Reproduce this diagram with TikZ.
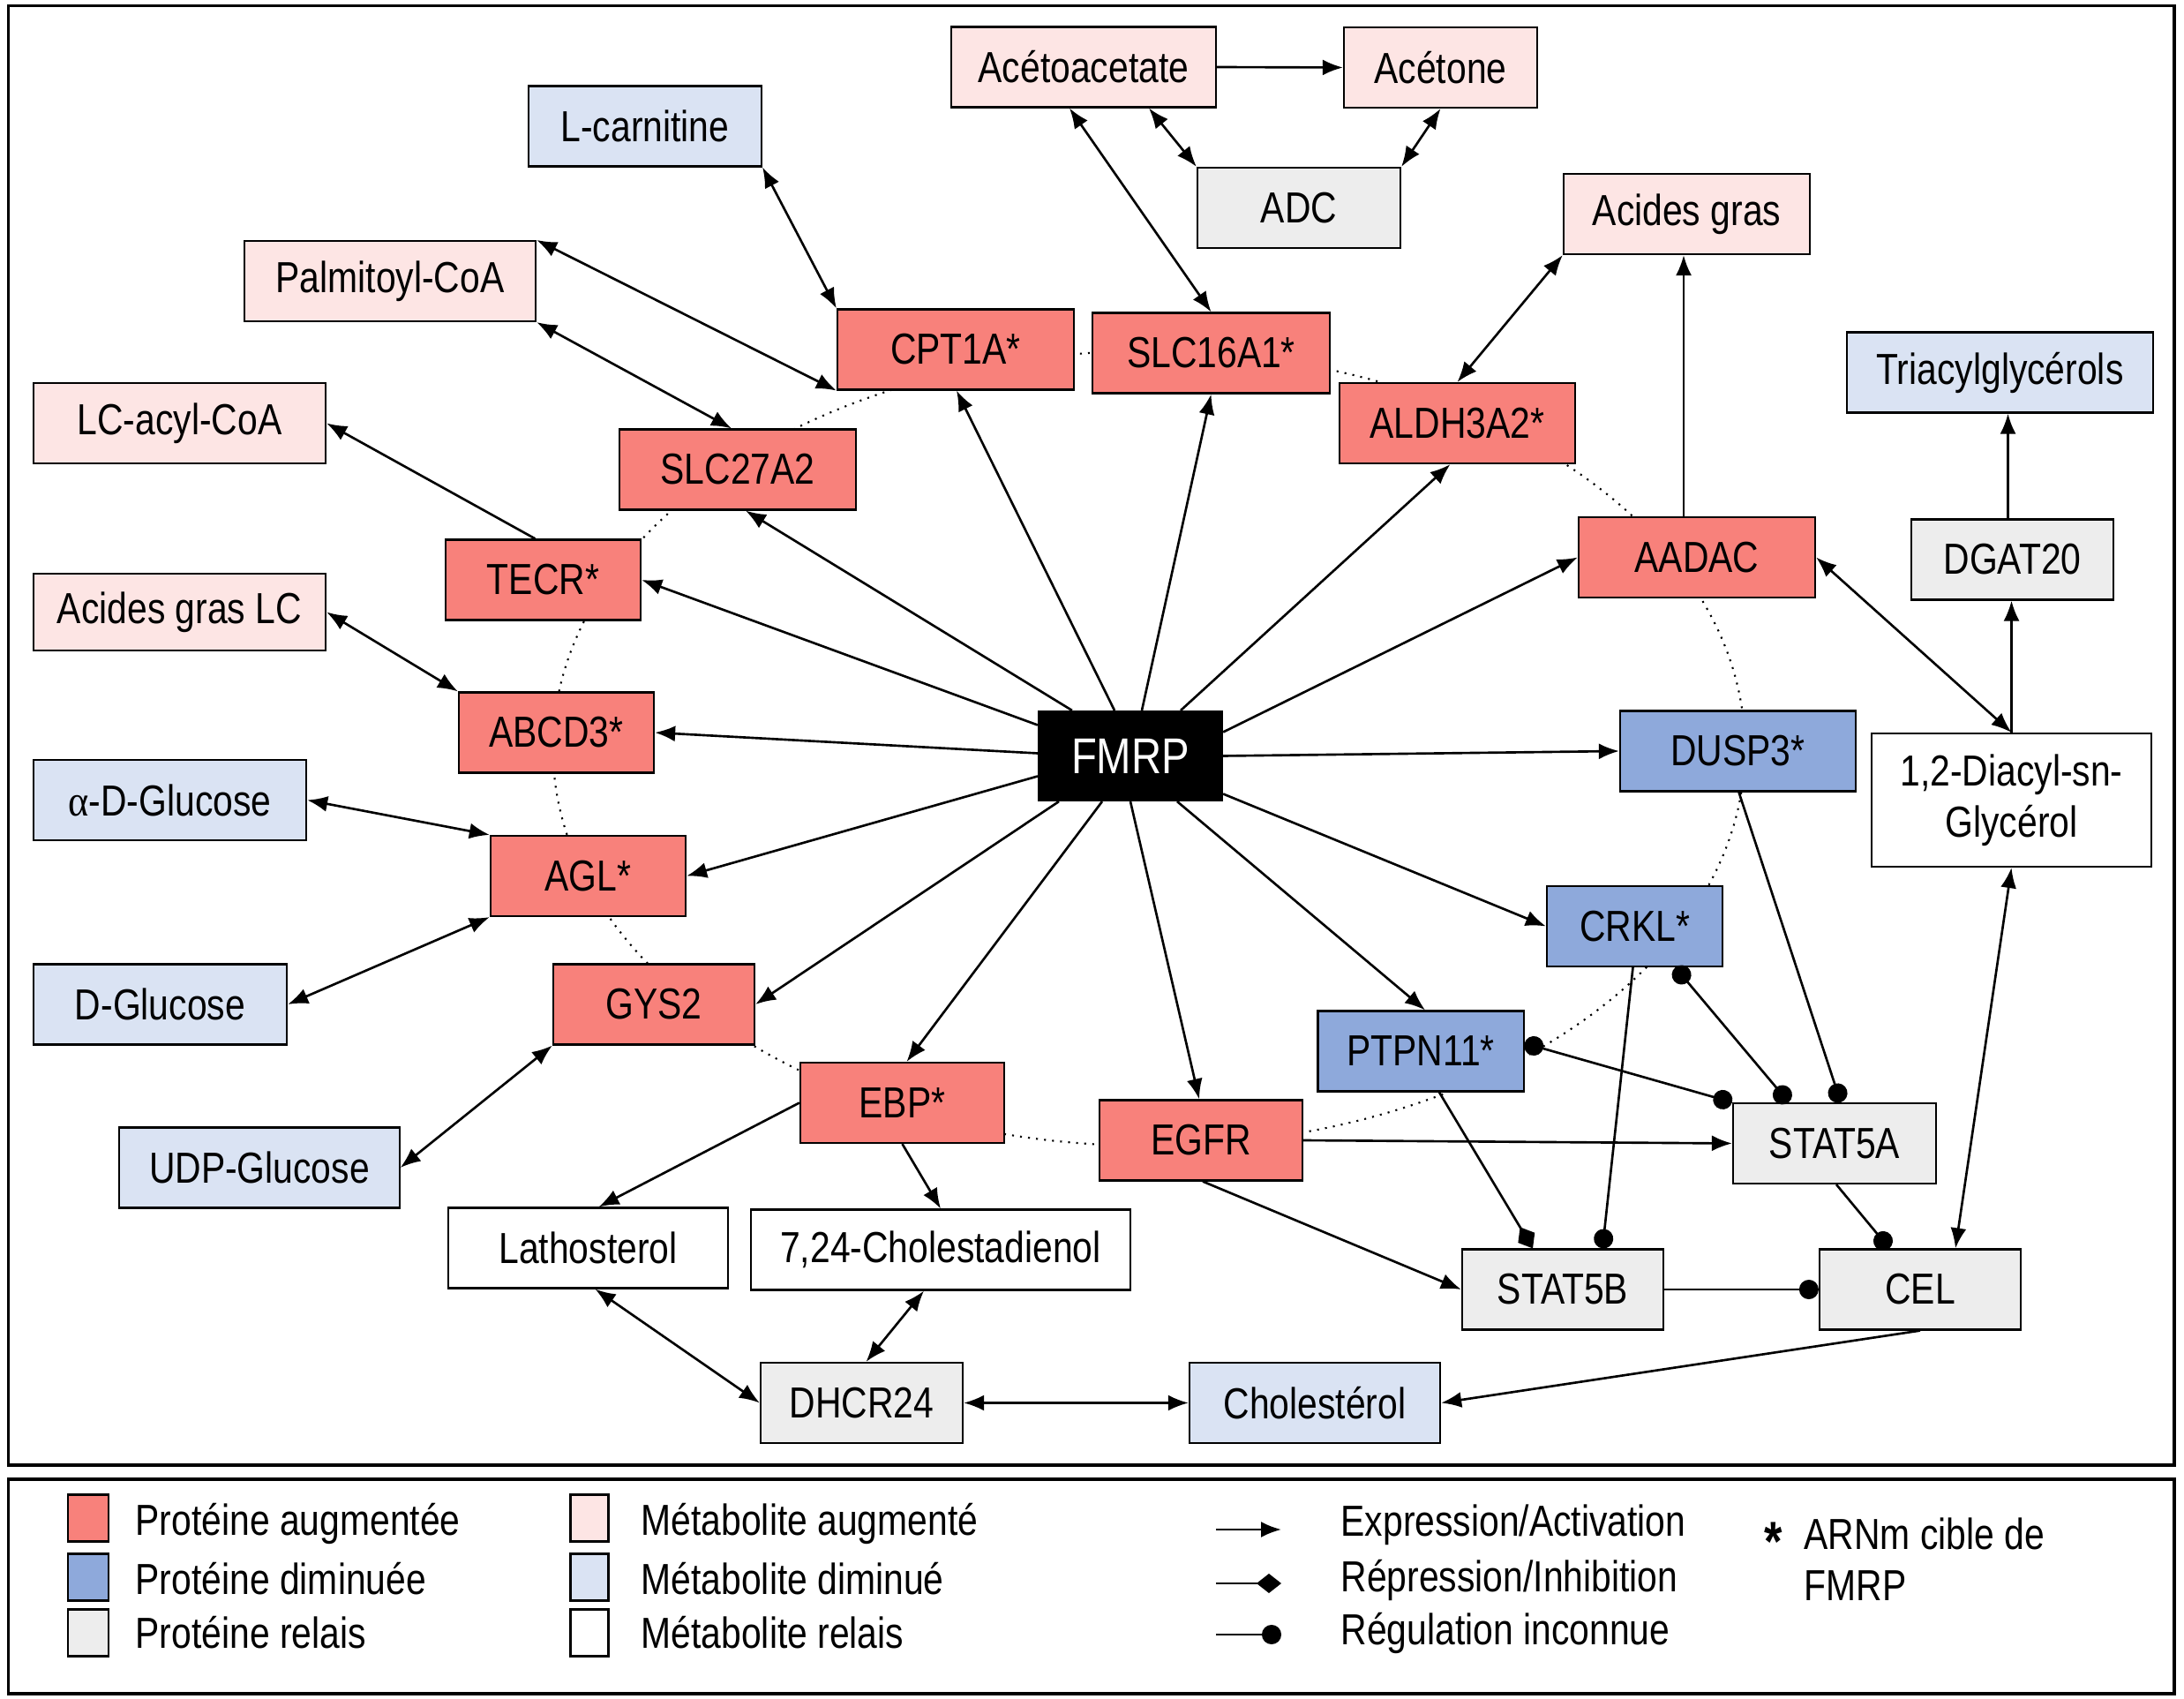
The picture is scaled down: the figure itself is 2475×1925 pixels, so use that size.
\documentclass[tikz,border=0pt]{standalone}
\usepackage{fontspec}
\setmainfont{Liberation Sans}[FakeStretch=0.83]
\newfontfamily\alphafont{Liberation Serif}[FakeStretch=0.9]
\usetikzlibrary{arrows.meta,calc}
\definecolor{pup}{HTML}{F8817B}
\definecolor{pdown}{HTML}{8EA9DB}
\definecolor{prelay}{HTML}{EDEDED}
\definecolor{mup}{HTML}{FDE5E4}
\definecolor{mdown}{HTML}{DAE3F3}
\begin{document}
\begin{tikzpicture}[x=0.01cm,y=-0.01cm,
  font=\fontsize{14}{16.5}\selectfont,
  box/.style={draw, line width=0.6pt, inner sep=0pt, align=center, minimum height=0.91cm},
  pu/.style={box, fill=pup},
  pd/.style={box, fill=pdown},
  pr/.style={box, fill=prelay},
  mu/.style={box, fill=mup},
  md/.style={box, fill=mdown},
  mr/.style={box, fill=white},
  fm/.style={box, fill=black, text=white, font=\fontsize{16.2}{18}\selectfont, minimum width=2.08cm, minimum height=1.01cm},
  conn/.style={line width=0.75pt},
  act/.style={conn, -{Latex[length=2.3mm,width=1.8mm]}},
  bi/.style={conn, {Latex[length=2.3mm,width=1.8mm]}-{Latex[length=2.3mm,width=1.8mm]}},
  unk/.style={conn, -{Circle[length=2.2mm]}},
  unkbi/.style={conn, {Circle[length=2.2mm]}-{Circle[length=2.2mm]}},
  inh/.style={conn, -{Diamond[length=2.8mm,width=2.2mm]}},
  swatch/.style={draw, line width=0.6pt, inner sep=0pt, minimum width=0.46cm, minimum height=0.53cm},
  legtext/.style={anchor=west, inner sep=0pt}
]
\useasboundingbox (0,0) rectangle (2475,1925);
\fill[white] (0,0) rectangle (2475,1925);
% frames
\draw[line width=0.9pt] (9.6,6.5) rectangle (2464,1660);
\draw[line width=0.9pt] (9.6,1676) rectangle (2464,1919);
% dotted ring
\draw[dotted, line width=0.6pt] (1302,848) ellipse [x radius=6.75cm, y radius=4.5cm];

% nodes
\node[mu, minimum width=3.00cm] (Acetoacetate) at (1228,76) {Acétoacetate};
\node[mu, minimum width=2.19cm] (Acetone) at (1632.5,76.5) {Acétone};
\node[pr, minimum width=2.30cm] (ADC) at (1472,235.5) {ADC};
\node[md, minimum width=2.64cm] (Lcarnitine) at (731,143) {L-carnitine};
\node[mu, minimum width=2.79cm] (AcidesGras) at (1911.5,242.5) {Acides gras};
\node[mu, minimum width=3.30cm] (Palmitoyl) at (442,318.5) {Palmitoyl-CoA};
\node[pu, minimum width=2.68cm] (CPT1A) at (1083,396) {CPT1A*};
\node[pu, minimum width=2.69cm] (SLC16A1) at (1372.5,400) {SLC16A1*};
\node[pu, minimum width=2.67cm] (ALDH3A2) at (1651.5,479.5) {ALDH3A2*};
\node[md, minimum width=3.47cm] (Triacyl) at (2266.5,422) {Triacylglycérols};
\node[mu, minimum width=3.31cm] (LCacyl) at (203.5,479.5) {LC-acyl-CoA};
\node[pu, minimum width=2.68cm] (SLC27A2) at (836,532) {SLC27A2};
\node[pu, minimum width=2.68cm] (AADAC) at (1923,631.5) {AADAC};
\node[pr, minimum width=2.29cm] (DGAT) at (2280.5,634) {DGAT20};
\node[pu, minimum width=2.21cm] (TECR) at (615.5,657) {TECR*};
\node[mu, minimum width=3.31cm, minimum height=0.87cm] (AcidesGrasLC) at (203.5,693.5) {Acides gras LC};
\node[pu, minimum width=2.21cm] (ABCD3) at (630.5,830) {ABCD3*};
\node[fm] (FMRP) at (1281,856.5) {FMRP};
\node[pd, minimum width=2.67cm] (DUSP3) at (1969.5,851) {DUSP3*};
\node[mr, minimum width=3.17cm, minimum height=1.51cm] (Diacyl) at (2279.5,906.5) {1,2-Diacyl-sn-\\Glycérol};
\node[md, minimum width=3.09cm] (aDGlucose) at (192.5,906.5) {{\alphafont α}-D-Glucose};
\node[pu, minimum width=2.21cm] (AGL) at (666.5,992.5) {AGL*};
\node[pd, minimum width=1.99cm] (CRKL) at (1852.5,1049.5) {CRKL*};
\node[md, minimum width=2.87cm] (DGlucose) at (181.5,1138) {D-Glucose};
\node[pu, minimum width=2.28cm] (GYS2) at (741,1138) {GYS2};
\node[pd, minimum width=2.33cm] (PTPN11) at (1610,1191) {PTPN11*};
\node[pu, minimum width=2.31cm] (EBP) at (1022.5,1249.5) {EBP*};
\node[pu, minimum width=2.30cm] (EGFR) at (1361,1292) {EGFR};
\node[pr, minimum width=2.30cm] (STAT5A) at (2079,1295.5) {STAT5A};
\node[md, minimum width=3.17cm] (UDPGlucose) at (294,1323) {UDP-Glucose};
\node[mr, minimum width=3.17cm] (Lathosterol) at (666.5,1414) {Lathosterol};
\node[mr, minimum width=4.30cm] (Cholestadienol) at (1066,1416) {7,24-Cholestadienol};
\node[pr, minimum width=2.28cm] (STAT5B) at (1771,1461) {STAT5B};
\node[pr, minimum width=2.28cm] (CEL) at (2176,1461) {CEL};
\node[pr, minimum width=2.29cm] (DHCR24) at (976.5,1589.5) {DHCR24};
\node[md, minimum width=2.84cm] (Cholesterol) at (1490,1589.5) {Cholestérol};

% metabolic connectors
\draw[act] (Acetoacetate.east) -- (Acetone.west);
\draw[bi] ($(Acetoacetate.south)+(74,0)$) -- (ADC.north west);
\draw[bi] (Acetone.south) -- (ADC.north east);
\draw[bi] ($(Acetoacetate.south)+(-16,0)$) -- (SLC16A1.north);
\draw[bi] (Lcarnitine.south east) -- (CPT1A.north west);
\draw[bi] (Palmitoyl.north east) -- (CPT1A.south west);
\draw[bi] (Palmitoyl.south east) -- ($(SLC27A2.north)+(-7,0)$);
\draw[act] ($(TECR.north)+(-9,0)$) -- (LCacyl.east);
\draw[bi] (AcidesGrasLC.east) -- (ABCD3.north west);
\draw[bi] (aDGlucose.east) -- (AGL.north west);
\draw[bi] (DGlucose.east) -- (AGL.south west);
\draw[bi] (UDPGlucose.east) -- (GYS2.south west);
\draw[act] (EBP.west) -- ($(Lathosterol.north)+(12,0)$);
\draw[act] (EBP.south) -- (Cholestadienol.north);
\draw[bi] ($(Lathosterol.south)+(8,0)$) -- (DHCR24.west);
\draw[bi] ($(Cholestadienol.south)+(-19,0)$) -- ($(DHCR24.north)+(5,0)$);
\draw[bi] (DHCR24.east) -- (Cholesterol.west);
\draw[act] (CEL.south) -- (Cholesterol.east);
\draw[bi] (ALDH3A2.north) -- (AcidesGras.south west);
\draw[act] ($(AADAC.north)+(-15,0)$) coordinate (aaTop) -- (aaTop |- AcidesGras.south);
\draw[act] ($(DGAT.north)+(-5,0)$) coordinate (dgTop) -- (dgTop |- Triacyl.south);
\draw[act] (Diacyl.north) -- (Diacyl.north |- DGAT.south);
\draw[bi] (AADAC.east) -- (Diacyl.north);
\draw[bi] (Diacyl.south) -- ($(CEL.north)+(40,0)$);

% FMRP connectors
\draw[act] ($(FMRP.north)+(-18,0)$) -- ($(CPT1A.south)+(1,0)$);
\draw[act] ($(FMRP.north)+(13,0)$) -- (SLC16A1.south);
\draw[act] ($(FMRP.north)+(57,0)$) -- ($(ALDH3A2.south)+(-8,0)$);
\draw[act] ($(FMRP.east)+(0,-27)$) -- (AADAC.west);
\draw[act] (FMRP.east) -- (DUSP3.west);
\draw[act] ($(FMRP.east)+(0,43)$) -- (CRKL.west);
\draw[act] ($(FMRP.south)+(53,0)$) -- ($(PTPN11.north)+(5,0)$);
\draw[act] (FMRP.south) -- ($(EGFR.north)+(-2,0)$);
\draw[act] ($(FMRP.south)+(-32,0)$) -- ($(EBP.north)+(5,0)$);
\draw[act] ($(FMRP.south)+(-81,0)$) -- (GYS2.east);
\draw[act] ($(FMRP.west)+(0,23)$) -- (AGL.east);
\draw[act] ($(FMRP.west)+(0,-3)$) -- (ABCD3.east);
\draw[act] ($(FMRP.west)+(0,-35)$) -- (TECR.east);
\draw[act] ($(FMRP.north west)+(39,0)$) -- ($(SLC27A2.south)+(9,0)$);

% signalling connectors
\draw[unk] ($(DUSP3.south)+(1,0)$) -- ($(STAT5A.north)+(7,0)$);
\draw[unkbi] ($(CRKL.south)+(46,0)$) -- ($(STAT5A.north)+(-52,0)$);
\draw[unkbi] ($(PTPN11.east)+(0,-9)$) -- (STAT5A.north west);
\draw[unk] ($(CRKL.south)+(-2,0)$) -- ($(STAT5B.north)+(45,0)$);
\draw[inh] ($(PTPN11.south)+(21,0)$) -- ($(STAT5B.north)+(-34,0)$);
\draw[act] (EGFR.east) -- (STAT5A.west);
\draw[act] ($(EGFR.south)+(2,0)$) -- (STAT5B.west);
\draw[unk] ($(STAT5A.south)+(2,0)$) -- ($(CEL.north)+(-35,0)$);
\draw[unk] (STAT5B.east) -- (CEL.west);

% legend
\node[swatch, fill=pup] (sw1) at (100,1720) {};
\node[swatch, fill=pdown] (sw2) at (100,1787) {};
\node[swatch, fill=prelay] (sw3) at (100,1850) {};
\node[swatch, fill=mup, minimum width=0.43cm] (sw4) at (668,1720) {};
\node[swatch, fill=mdown, minimum width=0.43cm] (sw5) at (668,1787) {};
\node[swatch, fill=white, minimum width=0.43cm] (sw6) at (668,1850) {};
\node[legtext] (lt1) at (153,1726) {Protéine augmentée};
\node[legtext] (lt2) at (153,1789) {Protéine diminuée};
\node[legtext] (lt3) at (153,1850) {Protéine relais};
\node[legtext] (lt4) at (726,1726) {Métabolite augmenté};
\node[legtext] (lt5) at (726,1789) {Métabolite diminué};
\node[legtext] (lt6) at (726,1850) {Métabolite relais};
\coordinate (la1) at (1378,1733); \coordinate (lb1) at (1452,1733);
\coordinate (la2) at (1378,1794); \coordinate (lb2) at (1452,1794);
\coordinate (la3) at (1378,1852); \coordinate (lb3) at (1452,1852);
\draw[act] (la1) -- (lb1);
\draw[inh] (la2) -- (lb2);
\draw[unk] (la3) -- (lb3);
\node[legtext] (lt7) at (1519,1728) {Expression/Activation};
\node[legtext] (lt8) at (1519,1790) {Répression/Inhibition};
\node[legtext] (lt9) at (1519,1850) {Régulation inconnue};
\node[legtext, font=\fontsize{18}{18}\bfseries] (star) at (1999,1747) {*};
\node[legtext, align=left] (lt10) at (2044,1767) {ARNm cible de\\FMRP};
\end{tikzpicture}
\end{document}
